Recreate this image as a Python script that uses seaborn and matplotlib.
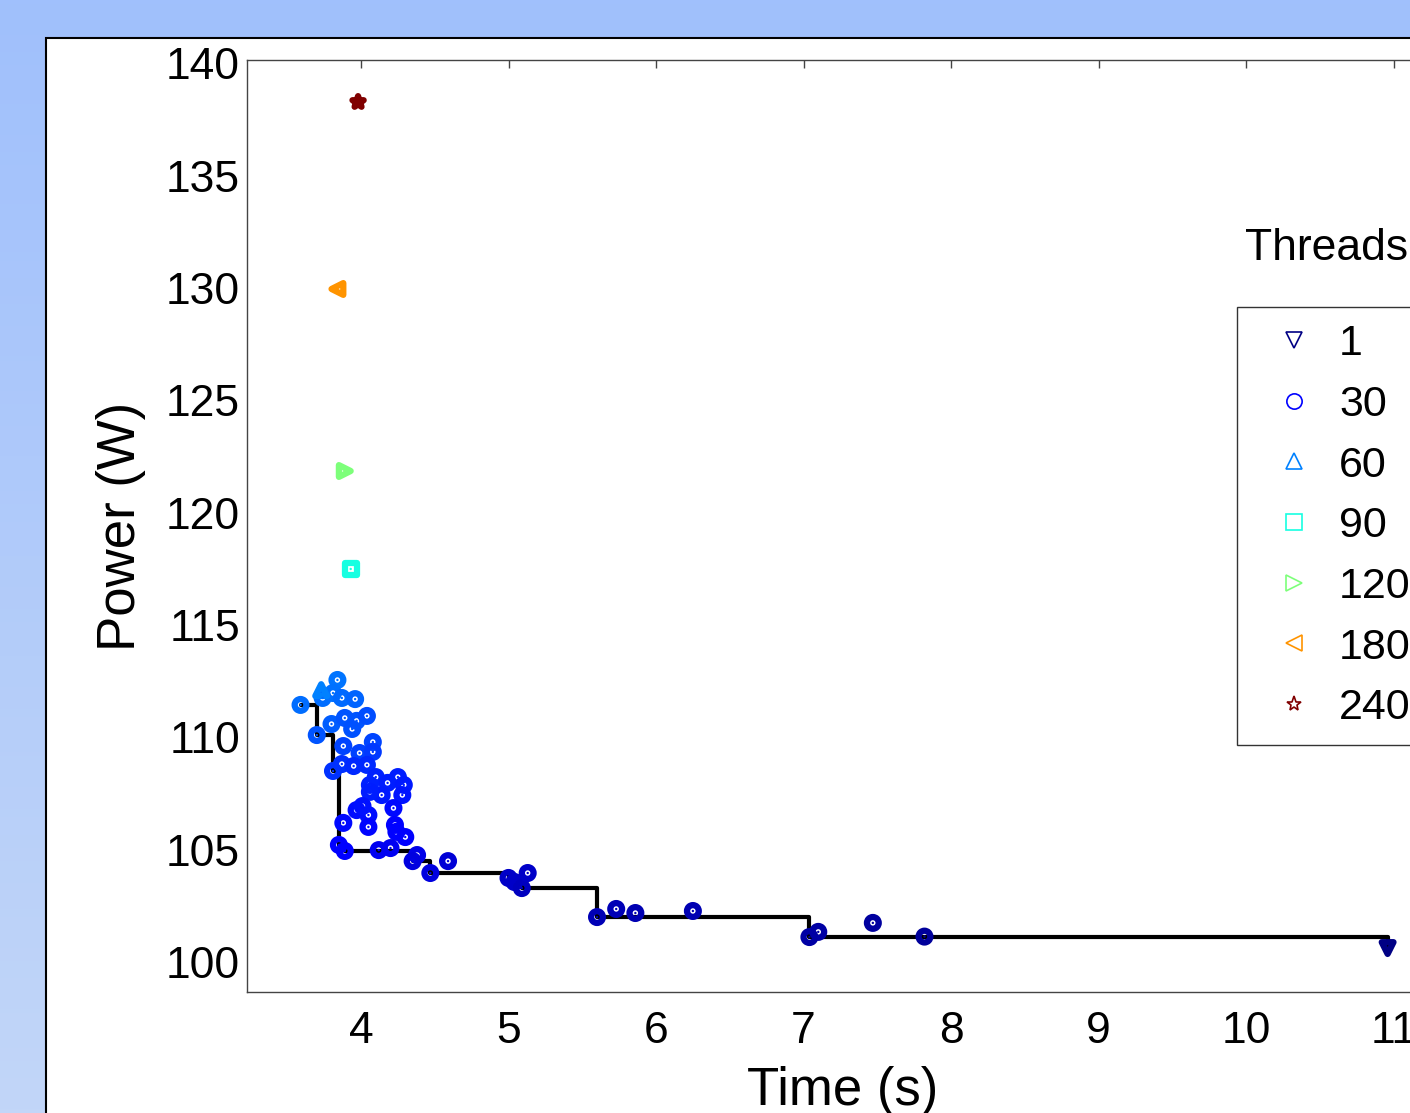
import matplotlib
matplotlib.use("Agg")
import matplotlib.pyplot as plt
from matplotlib.lines import Line2D
from matplotlib.patches import Rectangle
import numpy as np
import pandas as pd
import seaborn as sns

# thread count, run time (s), power (W)
threads = [1,
           58, 56, 57, 55, 54, 56, 50, 52, 50, 50, 48, 49, 46, 45, 46, 44,
           42, 42, 40, 40, 38, 37, 37, 36, 35, 36, 38, 37,
           32, 33, 33, 31, 32, 30, 30, 29, 34,
           28, 27, 24, 24, 22, 20, 20, 18,
           15, 15, 14, 15, 12, 12, 11, 11, 8, 8, 7, 6,
           60, 90, 120, 180, 240]
time_s = [10.96,
          3.84, 3.74, 3.81, 3.87, 3.96, 3.59, 3.70, 3.80, 3.89, 3.97, 4.04, 3.94, 3.88, 3.99, 4.08, 4.08,
          3.81, 3.87, 3.95, 4.04, 4.10, 4.18, 4.25, 4.29, 4.28, 4.14, 4.06, 4.06,
          4.22, 3.97, 4.05, 4.05, 3.88, 4.23, 4.24, 4.30, 4.01,
          3.85, 3.89, 4.12, 4.20, 4.38, 4.35, 4.47, 4.59,
          5.00, 5.04, 5.09, 5.13, 5.60, 5.73, 5.86, 6.25, 7.04, 7.10, 7.47, 7.82,
          3.73, 3.93, 3.89, 3.84, 3.98]
power_w = [100.62,
           112.55, 111.75, 111.97, 111.75, 111.70, 111.44, 110.10, 110.59, 110.86, 110.73, 110.95, 110.37,
           109.61, 109.30, 109.79, 109.35,
           108.50, 108.81, 108.72, 108.77, 108.23, 107.97, 108.23, 107.88, 107.43, 107.43, 107.88, 107.57,
           106.85, 106.76, 106.54, 106.01, 106.19, 106.10, 105.79, 105.56, 106.94,
           105.21, 104.94, 104.98, 105.07, 104.76, 104.49, 103.96, 104.49,
           103.74, 103.56, 103.29, 103.96, 102.00, 102.36, 102.18, 102.27, 101.11, 101.34, 101.74, 101.13,
           112.10, 117.49, 121.85, 129.95, 138.27]

legend_threads = [1, 30, 60, 90, 120, 180, 240]
legend_markers = ["v", "o", "^", "s", ">", "<", "*"]

df = pd.DataFrame({"threads": threads, "time": time_s, "power": power_w})

jet = plt.get_cmap("jet")
palette = {t: jet(t / 240) for t in sorted(set(threads) | set(legend_threads))}
special = dict(zip(legend_threads, legend_markers))
markers = {t: special.get(t, "o") for t in sorted(set(threads))}

sns.set_theme(style="white")
plt.rcParams["font.family"] = ["Liberation Sans", "DejaVu Sans"]
plt.rcParams["text.color"] = "black"
plt.rcParams["axes.labelcolor"] = "black"

W, H = 1410, 1113
fig = plt.figure(figsize=(W / 100, H / 100), dpi=100)

# blue backdrop with white panel
bg = fig.add_axes([0, 0, 1, 1], zorder=-10)
grad = np.linspace(0, 1, 256)[:, None]
top_c = np.array([160, 192, 252]) / 255
bot_c = np.array([194, 214, 248]) / 255
img = top_c[None, None, :] * (1 - grad[..., None]) + bot_c[None, None, :] * grad[..., None]
bg.imshow(img, aspect="auto", extent=[0, 1, 0, 1], origin="upper")
bg.add_patch(Rectangle((46 / W, -0.2), 1.5, 1 - 38 / H + 0.2, facecolor="white",
                       edgecolor="black", linewidth=1.5))
bg.set_xlim(0, 1)
bg.set_ylim(0, 1)
bg.axis("off")

# main axes, right part runs off the picture
xmin, xmax = 3.227, 11.2
ymin, ymax = 98.665, 140.14
ax_w = (xmax - xmin) * 147.5 / W
ax = fig.add_axes([247 / W, 1 - 992 / H, ax_w, (992 - 60) / H])
ax.set_facecolor("white")

# pareto front as a step line
srt = df.sort_values("time")
front = srt[srt["power"] < srt["power"].cummin().shift(1, fill_value=np.inf)]
ax.step(front["time"], front["power"], where="post", color="black", lw=3, zorder=1)

sns.scatterplot(data=df, x="time", y="power", hue="threads", palette=palette,
                style="threads", markers=markers, s=72, linewidth=4.5,
                legend=False, ax=ax, zorder=3)
pts = ax.collections[-1]
pts.set_edgecolors(pts.get_facecolors())
pts.set_facecolors("none")
sns.scatterplot(data=df, x="time", y="power", hue="threads", palette=palette,
                s=3, linewidth=0, legend=False, ax=ax, zorder=4)

ax.set_xlim(xmin, xmax)
ax.set_ylim(ymin, ymax)
ax.set_xticks(range(4, 12))
ax.set_yticks(range(100, 141, 5))
ax.tick_params(direction="in", length=6, width=1, color="#444444", labelsize=32,
               labelcolor="black", top=True, right=True)
ax.tick_params(axis="x", pad=14)
ax.tick_params(axis="y", pad=5)
for sp in ax.spines.values():
    sp.set_color("#444444")
    sp.set_linewidth(1)

ax.set_xlabel("Time (s)", fontsize=38)
ax.set_ylabel("Power (W)", fontsize=38)
ax.xaxis.set_label_coords((843 - 247) / (ax_w * W), -(1066 - 992) / (992 - 60))
ax.yaxis.set_label_coords(-(247 - 146) / (ax_w * W), 0.5)

handles = [Line2D([], [], marker=m, linestyle="none", markeredgecolor=palette[t],
                  markerfacecolor="none", markersize=11, markeredgewidth=1.2, label=str(t))
           for t, m in zip(legend_threads, legend_markers)]
leg = ax.legend(handles=handles, loc="upper left", bbox_to_anchor=(1237 / W, 1 - 307 / H),
                bbox_transform=fig.transFigure, fontsize=31, frameon=True, fancybox=False,
                edgecolor="#333333", framealpha=1, borderpad=0.4, borderaxespad=0,
                handlelength=1.85, handletextpad=0.12, labelspacing=0.48)
leg.get_frame().set_linewidth(1)
fig.text(1245 / W, 1 - 248 / H, "Threads", fontsize=32, va="center", ha="left")

fig.savefig("out.png", dpi=100)
